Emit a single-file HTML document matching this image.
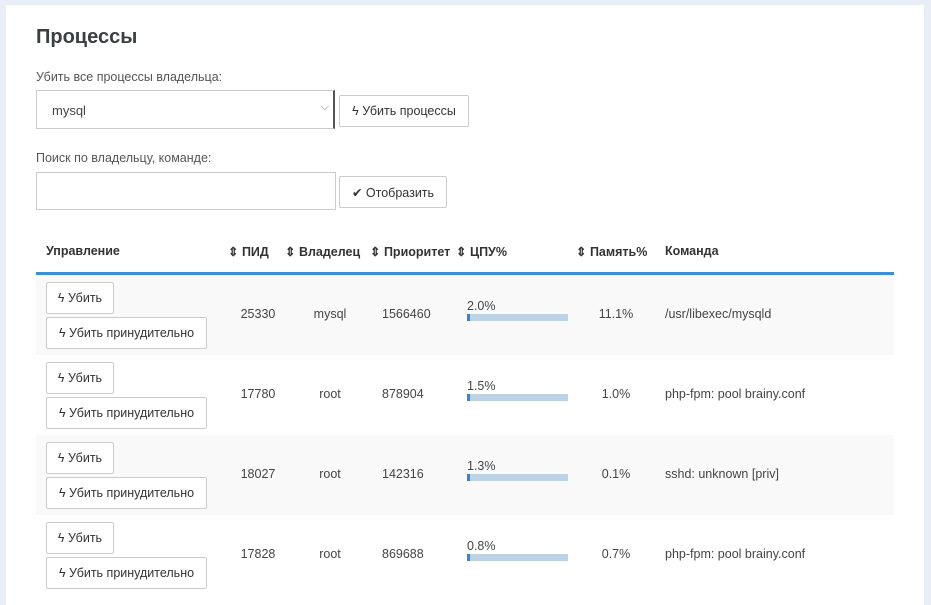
<!DOCTYPE html><html><head><meta charset="utf-8"><style>
body{margin:0;width:931px;height:592px;background:#e9edf5;font-family:"Liberation Sans",sans-serif;overflow:hidden;position:relative;color:#444}
.p{position:absolute;left:6px;top:5px;width:918px;height:600px;background:#fff}
.a{position:absolute;white-space:nowrap}
.btn{position:absolute;border:1px solid #ccc;border-radius:2px;background:#fff;font-size:12.5px;color:#333;box-sizing:border-box;display:flex;align-items:center;justify-content:center}
.h{font-weight:bold;font-size:12.5px;color:#333;top:244px}
.c{font-size:12.5px;color:#444}
.bar{position:absolute;left:467px;width:101px;height:7px;background:#bcd3e6}
.bar i{display:block;height:7px;width:3px;background:#2e86d4}
</style></head><body><div class="p"></div>
<div class="a" style="left:36px;top:26px;font-size:20px;font-weight:bold;color:#3a3f44">Процессы</div>
<div class="a" style="left:36px;top:70px;font-size:12.5px;color:#555">Убить все процессы владельца:</div>
<div class="a" style="left:36px;top:90px;width:299px;height:39px;border:1px solid #ccc;border-right:2px solid #555;box-sizing:border-box"><span style="position:absolute;left:15px;top:12px;font-size:13px;color:#444">mysql</span><span style="position:absolute;right:4px;top:10px;font-size:11px;color:#777">⌵</span></div>
<div class="btn" style="left:339px;top:95px;width:130px;height:32px">ϟ Убить процессы</div>
<div class="a" style="left:36px;top:151px;font-size:12.5px;color:#555">Поиск по владельцу, команде:</div>
<div class="a" style="left:36px;top:172px;width:300px;height:38px;border:1px solid #ccc;box-sizing:border-box"></div>
<div class="btn" style="left:339px;top:176px;width:108px;height:32px">✔ Отобразить</div>
<div class="a h" style="left:46px">Управление</div>
<div class="a h" style="left:228px">⇕ ПИД</div>
<div class="a h" style="left:285px">⇕ Владелец</div>
<div class="a h" style="left:370px">⇕ Приоритет</div>
<div class="a h" style="left:456px">⇕ ЦПУ%</div>
<div class="a h" style="left:576px">⇕ Память%</div>
<div class="a h" style="left:665px">Команда</div>
<div class="a" style="left:36px;top:272px;width:858px;height:3px;background:#3a8fd9"></div>
<div id="rows"></div>
<script>
var d=[["25330","mysql","1566460","2.0%","11.1%","/usr/libexec/mysqld"],["17780","root","878904","1.5%","1.0%","php-fpm: pool brainy.conf"],["18027","root","142316","1.3%","0.1%","sshd: unknown [priv]"],["17828","root","869688","0.8%","0.7%","php-fpm: pool brainy.conf"]];
var h="";d.forEach(function(r,i){var t=275+i*80;
h+='<div class="a" style="left:36px;top:'+t+'px;width:858px;height:80px;background:'+(i%2?'#fff':'#f9f9f9')+'"></div>';
h+='<div class="btn" style="left:46px;top:'+(t+7)+'px;width:68px;height:32px">ϟ Убить</div>';
h+='<div class="btn" style="left:46px;top:'+(t+42)+'px;width:161px;height:32px">ϟ Убить принудительно</div>';
h+='<div class="a c" style="left:220px;width:76px;text-align:center;top:'+(t+32)+'px">'+r[0]+'</div>';
h+='<div class="a c" style="left:290px;width:80px;text-align:center;top:'+(t+32)+'px">'+r[1]+'</div>';
h+='<div class="a c" style="left:382px;top:'+(t+32)+'px">'+r[2]+'</div>';
h+='<div class="a c" style="left:467px;top:'+(t+24)+'px">'+r[3]+'</div>';
h+='<div class="bar" style="top:'+(t+39)+'px"><i></i></div>';
h+='<div class="a c" style="left:576px;width:80px;text-align:center;top:'+(t+32)+'px">'+r[4]+'</div>';
h+='<div class="a c" style="left:665px;top:'+(t+32)+'px">'+r[5]+'</div>';});
document.getElementById("rows").innerHTML=h;
</script></body></html>
